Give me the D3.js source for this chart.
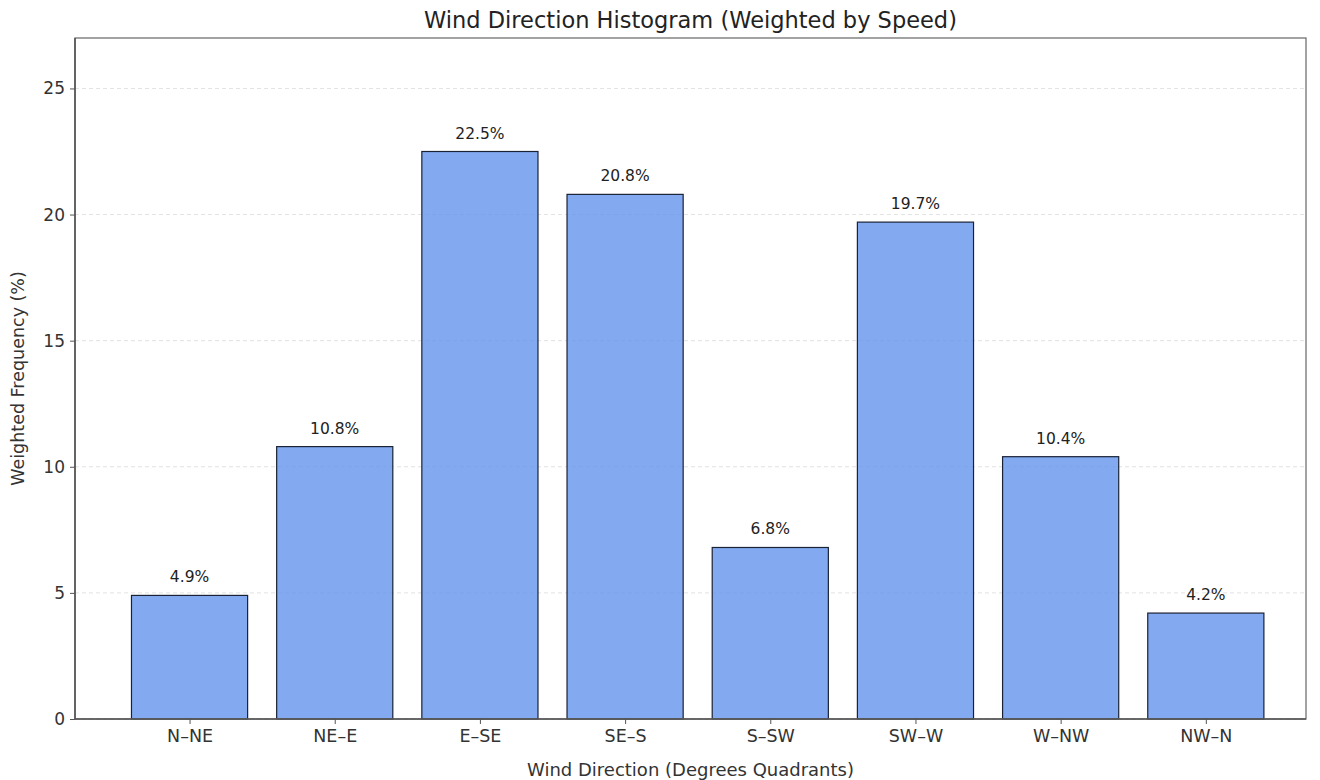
<!DOCTYPE html>
<html><head><meta charset="utf-8">
<script src="https://cdn.jsdelivr.net/npm/d3@7"></script>
<style>body{margin:0;background:#fff;font-family:"DejaVu Sans",sans-serif;}</style>
</head><body>
<svg id="c" width="1320" height="780"></svg>
<script>
const categories = ["N–NE","NE–E","E–SE","SE–S","S–SW","SW–W","W–NW","NW–N"];
const values = [4.9, 10.8, 22.5, 20.8, 6.8, 19.7, 10.4, 4.2];
const yTicks = [0, 5, 10, 15, 20, 25];

const svg = d3.select("#c");
const L = 75, R = 1306, T = 38, B = 719;
const n = categories.length;
const x = d3.scaleLinear().domain([-0.789, n - 1 + 0.69]).range([L, R]);
const y = d3.scaleLinear().domain([0, d3.max(values) * 1.2]).range([B, T]);
const bw = x(0.8) - x(0);
const FF = "DejaVu Sans";

// grid
svg.append("g").selectAll("line").data(yTicks).join("line")
  .attr("x1", L).attr("x2", R).attr("y1", d => y(d)).attr("y2", d => y(d))
  .attr("stroke", "#ccc").attr("stroke-width", 0.8).attr("stroke-dasharray", "4,3").attr("opacity", 0.7);

// bars
svg.append("g").selectAll("rect").data(values).join("rect")
  .attr("x", (d, i) => x(i) - bw / 2).attr("width", bw)
  .attr("y", d => y(d)).attr("height", d => B - y(d))
  .attr("fill", "#6495ED").attr("fill-opacity", 0.8)
  .attr("stroke", "#1a2235").attr("stroke-width", 1.2);

// labels
svg.append("g").selectAll("text").data(values).join("text")
  .attr("x", (d, i) => x(i)).attr("y", d => y(d) - 13)
  .attr("text-anchor", "middle").attr("font-size", 15.5).attr("font-family", FF).attr("fill", "#222")
  .text(d => d.toFixed(1) + "%");

// frame
svg.append("rect").attr("x", L).attr("y", T).attr("width", R - L).attr("height", B - T)
  .attr("fill", "none").attr("stroke", "#666").attr("stroke-width", 1.2);
svg.append("line").attr("x1", L).attr("x2", L).attr("y1", T).attr("y2", B).attr("stroke", "#555").attr("stroke-width", 1.6);
svg.append("line").attr("x1", L).attr("x2", R).attr("y1", B).attr("y2", B).attr("stroke", "#555").attr("stroke-width", 1.6);

// axes
const yAxis = d3.axisLeft(y).tickValues(yTicks).tickSize(5).tickPadding(5);
const gy = svg.append("g").attr("transform", `translate(${L},0)`).call(yAxis);
gy.select(".domain").remove();
gy.selectAll("text").attr("font-size", 17).attr("fill", "#333").attr("font-family", FF);
gy.selectAll("line").attr("stroke", "#555");

const xAxis = d3.axisBottom(x).tickValues(d3.range(n)).tickFormat(i => categories[i]).tickSize(5).tickPadding(6);
const gx = svg.append("g").attr("transform", `translate(0,${B})`).call(xAxis);
gx.select(".domain").remove();
gx.selectAll("text").attr("font-size", 17.5).attr("fill", "#333").attr("font-family", FF);
gx.selectAll("line").attr("stroke", "#555");

// titles
svg.append("text").attr("x", (L + R) / 2).attr("y", 28).attr("text-anchor", "middle")
  .attr("font-size", 22.5).attr("font-family", FF).attr("fill", "#222").text("Wind Direction Histogram (Weighted by Speed)");
svg.append("text").attr("x", (L + R) / 2).attr("y", 776).attr("text-anchor", "middle")
  .attr("font-size", 18).attr("font-family", FF).attr("fill", "#333").text("Wind Direction (Degrees Quadrants)");
svg.append("text").attr("transform", `translate(24,${(T + B) / 2}) rotate(-90)`).attr("text-anchor", "middle")
  .attr("font-size", 17.5).attr("font-family", FF).attr("fill", "#333").text("Weighted Frequency (%)");
</script>
</body></html>
